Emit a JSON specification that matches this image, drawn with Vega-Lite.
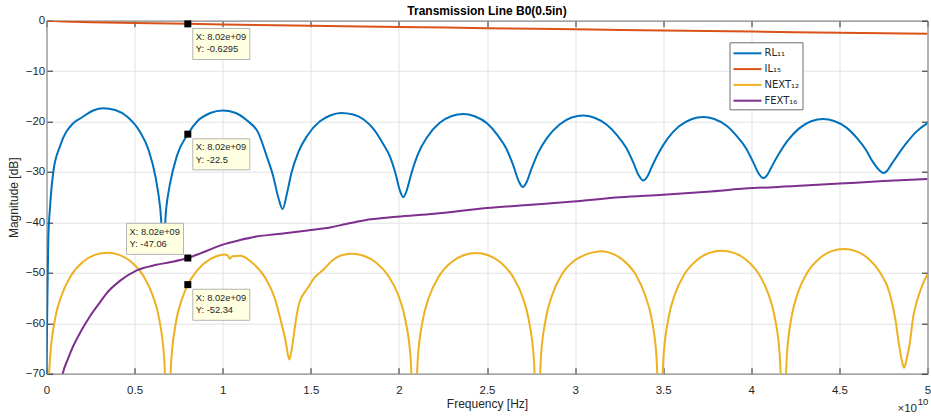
{
  "$schema": "https://vega.github.io/schema/vega-lite/v6.json",
  "width": 881,
  "height": 353,
  "autosize": {"type": "none"},
  "padding": {"left": 46.5, "top": 20.7, "right": 3.5, "bottom": 44.3},
  "background": "white",
  "config": {"view": {"stroke": null}, "font": "Liberation Sans"},
  "title": {"text": "Transmission Line B0(0.5in)", "fontSize": 12, "fontWeight": "bold", "color": "#000000", "offset": -3, "anchor": "middle", "font": "Liberation Sans"},
  "datasets": {
    "curves": [
      {"s": "RL₁₁", "f": 0, "db": -70}, {"s": "RL₁₁", "f": 0.05, "db": -55}, {"s": "RL₁₁", "f": 0.102, "db": -43.5}, {"s": "RL₁₁", "f": 0.2, "db": -37}, {"s": "RL₁₁", "f": 0.386, "db": -30}, {"s": "RL₁₁", "f": 0.766, "db": -24.9}, {"s": "RL₁₁", "f": 1.52, "db": -20.3}, {"s": "RL₁₁", "f": 2.0, "db": -19.2}, {"s": "RL₁₁", "f": 2.65, "db": -17.8}, {"s": "RL₁₁", "f": 3.22, "db": -17.35}, {"s": "RL₁₁", "f": 3.9, "db": -17.7}, {"s": "RL₁₁", "f": 4.6, "db": -19.1}, {"s": "RL₁₁", "f": 5.3, "db": -22.0}, {"s": "RL₁₁", "f": 5.8, "db": -25.7}, {"s": "RL₁₁", "f": 6.2, "db": -31.2}, {"s": "RL₁₁", "f": 6.45, "db": -37}, {"s": "RL₁₁", "f": 6.63, "db": -44}, {"s": "RL₁₁", "f": 6.8, "db": -37}, {"s": "RL₁₁", "f": 7.0, "db": -32.5}, {"s": "RL₁₁", "f": 7.4, "db": -26.8}, {"s": "RL₁₁", "f": 8.02, "db": -22.5}, {"s": "RL₁₁", "f": 8.6, "db": -19.8}, {"s": "RL₁₁", "f": 9.3, "db": -18.3}, {"s": "RL₁₁", "f": 10.0, "db": -17.8}, {"s": "RL₁₁", "f": 10.7, "db": -18.25}, {"s": "RL₁₁", "f": 11.4, "db": -19.85}, {"s": "RL₁₁", "f": 12.0, "db": -22.1}, {"s": "RL₁₁", "f": 12.5, "db": -26.9}, {"s": "RL₁₁", "f": 12.87, "db": -30.9}, {"s": "RL₁₁", "f": 13.15, "db": -35}, {"s": "RL₁₁", "f": 13.4, "db": -37.35}, {"s": "RL₁₁", "f": 13.65, "db": -34.2}, {"s": "RL₁₁", "f": 13.9, "db": -30.2}, {"s": "RL₁₁", "f": 14.3, "db": -26.0}, {"s": "RL₁₁", "f": 14.8, "db": -22.8}, {"s": "RL₁₁", "f": 15.5, "db": -20.0}, {"s": "RL₁₁", "f": 16.1, "db": -18.8}, {"s": "RL₁₁", "f": 16.7, "db": -18.3}, {"s": "RL₁₁", "f": 17.4, "db": -18.6}, {"s": "RL₁₁", "f": 18.0, "db": -19.6}, {"s": "RL₁₁", "f": 18.6, "db": -21.65}, {"s": "RL₁₁", "f": 19.1, "db": -24.4}, {"s": "RL₁₁", "f": 19.5, "db": -27.0}, {"s": "RL₁₁", "f": 19.8, "db": -30.2}, {"s": "RL₁₁", "f": 20.05, "db": -33.6}, {"s": "RL₁₁", "f": 20.25, "db": -35.0}, {"s": "RL₁₁", "f": 20.45, "db": -33.6}, {"s": "RL₁₁", "f": 20.7, "db": -30.4}, {"s": "RL₁₁", "f": 21.1, "db": -26.3}, {"s": "RL₁₁", "f": 21.6, "db": -23.1}, {"s": "RL₁₁", "f": 22.3, "db": -20.3}, {"s": "RL₁₁", "f": 23.0, "db": -18.9}, {"s": "RL₁₁", "f": 23.66, "db": -18.5}, {"s": "RL₁₁", "f": 24.3, "db": -18.95}, {"s": "RL₁₁", "f": 25.0, "db": -20.35}, {"s": "RL₁₁", "f": 25.6, "db": -22.7}, {"s": "RL₁₁", "f": 26.1, "db": -25.4}, {"s": "RL₁₁", "f": 26.5, "db": -28.8}, {"s": "RL₁₁", "f": 26.8, "db": -31.8}, {"s": "RL₁₁", "f": 27.03, "db": -33.0}, {"s": "RL₁₁", "f": 27.25, "db": -32.0}, {"s": "RL₁₁", "f": 27.5, "db": -29.6}, {"s": "RL₁₁", "f": 27.9, "db": -26.2}, {"s": "RL₁₁", "f": 28.4, "db": -23.3}, {"s": "RL₁₁", "f": 29.1, "db": -20.65}, {"s": "RL₁₁", "f": 29.8, "db": -19.2}, {"s": "RL₁₁", "f": 30.47, "db": -18.8}, {"s": "RL₁₁", "f": 31.1, "db": -19.25}, {"s": "RL₁₁", "f": 31.8, "db": -20.65}, {"s": "RL₁₁", "f": 32.4, "db": -22.8}, {"s": "RL₁₁", "f": 32.9, "db": -25.2}, {"s": "RL₁₁", "f": 33.3, "db": -28.1}, {"s": "RL₁₁", "f": 33.6, "db": -30.6}, {"s": "RL₁₁", "f": 33.87, "db": -31.7}, {"s": "RL₁₁", "f": 34.1, "db": -30.9}, {"s": "RL₁₁", "f": 34.35, "db": -29.0}, {"s": "RL₁₁", "f": 34.75, "db": -26.2}, {"s": "RL₁₁", "f": 35.25, "db": -23.4}, {"s": "RL₁₁", "f": 35.9, "db": -20.95}, {"s": "RL₁₁", "f": 36.6, "db": -19.55}, {"s": "RL₁₁", "f": 37.28, "db": -19.1}, {"s": "RL₁₁", "f": 37.9, "db": -19.5}, {"s": "RL₁₁", "f": 38.6, "db": -20.85}, {"s": "RL₁₁", "f": 39.2, "db": -23.0}, {"s": "RL₁₁", "f": 39.7, "db": -25.3}, {"s": "RL₁₁", "f": 40.1, "db": -28.0}, {"s": "RL₁₁", "f": 40.4, "db": -30.2}, {"s": "RL₁₁", "f": 40.68, "db": -31.2}, {"s": "RL₁₁", "f": 40.9, "db": -30.6}, {"s": "RL₁₁", "f": 41.15, "db": -29.0}, {"s": "RL₁₁", "f": 41.55, "db": -26.5}, {"s": "RL₁₁", "f": 42.05, "db": -23.85}, {"s": "RL₁₁", "f": 42.7, "db": -21.4}, {"s": "RL₁₁", "f": 43.4, "db": -19.95}, {"s": "RL₁₁", "f": 44.09, "db": -19.5}, {"s": "RL₁₁", "f": 44.7, "db": -19.9}, {"s": "RL₁₁", "f": 45.4, "db": -21.2}, {"s": "RL₁₁", "f": 46.0, "db": -23.3}, {"s": "RL₁₁", "f": 46.5, "db": -25.6}, {"s": "RL₁₁", "f": 46.9, "db": -28.0}, {"s": "RL₁₁", "f": 47.2, "db": -29.4}, {"s": "RL₁₁", "f": 47.49, "db": -30.2}, {"s": "RL₁₁", "f": 47.7, "db": -29.8}, {"s": "RL₁₁", "f": 47.95, "db": -28.5}, {"s": "RL₁₁", "f": 48.3, "db": -26.7}, {"s": "RL₁₁", "f": 48.8, "db": -24.3}, {"s": "RL₁₁", "f": 49.4, "db": -21.9}, {"s": "RL₁₁", "f": 50.0, "db": -20.3},
      {"s": "IL₁₅", "f": 0, "db": 0}, {"s": "IL₁₅", "f": 1, "db": -0.159}, {"s": "IL₁₅", "f": 2.5, "db": -0.284}, {"s": "IL₁₅", "f": 5, "db": -0.45}, {"s": "IL₁₅", "f": 8.02, "db": -0.6295}, {"s": "IL₁₅", "f": 10, "db": -0.739}, {"s": "IL₁₅", "f": 15, "db": -1.0}, {"s": "IL₁₅", "f": 20, "db": -1.246}, {"s": "IL₁₅", "f": 25, "db": -1.48}, {"s": "IL₁₅", "f": 30, "db": -1.715}, {"s": "IL₁₅", "f": 35, "db": -1.94}, {"s": "IL₁₅", "f": 40, "db": -2.16}, {"s": "IL₁₅", "f": 45, "db": -2.38}, {"s": "IL₁₅", "f": 50, "db": -2.6},
      {"s": "NEXT₁₂", "f": 0, "db": -80}, {"s": "NEXT₁₂", "f": 0.21, "db": -66.5}, {"s": "NEXT₁₂", "f": 0.48, "db": -59.2}, {"s": "NEXT₁₂", "f": 0.83, "db": -54.7}, {"s": "NEXT₁₂", "f": 1.38, "db": -50.6}, {"s": "NEXT₁₂", "f": 2.06, "db": -47.84}, {"s": "NEXT₁₂", "f": 2.75, "db": -46.44}, {"s": "NEXT₁₂", "f": 3.44, "db": -46.0}, {"s": "NEXT₁₂", "f": 4.13, "db": -46.44}, {"s": "NEXT₁₂", "f": 4.82, "db": -47.84}, {"s": "NEXT₁₂", "f": 5.5, "db": -50.6}, {"s": "NEXT₁₂", "f": 6.05, "db": -54.7}, {"s": "NEXT₁₂", "f": 6.4, "db": -59.2}, {"s": "NEXT₁₂", "f": 6.67, "db": -66.5}, {"s": "NEXT₁₂", "f": 6.88, "db": -80},
      {"s": "NEXT₁₂", "f": 7.09, "db": -66.8}, {"s": "NEXT₁₂", "f": 7.36, "db": -59.5}, {"s": "NEXT₁₂", "f": 7.71, "db": -55.0}, {"s": "NEXT₁₂", "f": 8.02, "db": -52.34}, {"s": "NEXT₁₂", "f": 8.26, "db": -50.9}, {"s": "NEXT₁₂", "f": 8.95, "db": -48.1}, {"s": "NEXT₁₂", "f": 9.64, "db": -46.7}, {"s": "NEXT₁₂", "f": 10.1, "db": -46.35}, {"s": "NEXT₁₂", "f": 10.3, "db": -46.6}, {"s": "NEXT₁₂", "f": 10.4, "db": -47.2}, {"s": "NEXT₁₂", "f": 10.55, "db": -46.7}, {"s": "NEXT₁₂", "f": 11.0, "db": -46.6}, {"s": "NEXT₁₂", "f": 11.71, "db": -48.1}, {"s": "NEXT₁₂", "f": 12.4, "db": -50.9}, {"s": "NEXT₁₂", "f": 12.95, "db": -55.0}, {"s": "NEXT₁₂", "f": 13.3, "db": -59.5}, {"s": "NEXT₁₂", "f": 13.57, "db": -63.5}, {"s": "NEXT₁₂", "f": 13.78, "db": -67.2},
      {"s": "NEXT₁₂", "f": 13.9, "db": -65.5}, {"s": "NEXT₁₂", "f": 14.0, "db": -63.2}, {"s": "NEXT₁₂", "f": 14.15, "db": -59.5}, {"s": "NEXT₁₂", "f": 14.3, "db": -56.6}, {"s": "NEXT₁₂", "f": 14.45, "db": -55.0}, {"s": "NEXT₁₂", "f": 14.57, "db": -54.3}, {"s": "NEXT₁₂", "f": 14.77, "db": -53.3}, {"s": "NEXT₁₂", "f": 15.2, "db": -51.0}, {"s": "NEXT₁₂", "f": 15.71, "db": -49.4}, {"s": "NEXT₁₂", "f": 16.2, "db": -47.6}, {"s": "NEXT₁₂", "f": 16.66, "db": -46.6}, {"s": "NEXT₁₂", "f": 17.32, "db": -46.2}, {"s": "NEXT₁₂", "f": 18.0, "db": -46.6}, {"s": "NEXT₁₂", "f": 18.7, "db": -47.95}, {"s": "NEXT₁₂", "f": 19.4, "db": -50.6}, {"s": "NEXT₁₂", "f": 19.95, "db": -54.3}, {"s": "NEXT₁₂", "f": 20.37, "db": -59.4}, {"s": "NEXT₁₂", "f": 20.66, "db": -66.7}, {"s": "NEXT₁₂", "f": 20.87, "db": -80},
      {"s": "NEXT₁₂", "f": 21.08, "db": -66.6}, {"s": "NEXT₁₂", "f": 21.36, "db": -59.3}, {"s": "NEXT₁₂", "f": 21.71, "db": -54.8}, {"s": "NEXT₁₂", "f": 22.27, "db": -50.7}, {"s": "NEXT₁₂", "f": 22.97, "db": -47.9}, {"s": "NEXT₁₂", "f": 23.67, "db": -46.5}, {"s": "NEXT₁₂", "f": 24.37, "db": -46.06}, {"s": "NEXT₁₂", "f": 25.07, "db": -46.5}, {"s": "NEXT₁₂", "f": 25.76, "db": -47.9}, {"s": "NEXT₁₂", "f": 26.46, "db": -50.7}, {"s": "NEXT₁₂", "f": 27.02, "db": -54.8}, {"s": "NEXT₁₂", "f": 27.37, "db": -59.3}, {"s": "NEXT₁₂", "f": 27.65, "db": -66.6}, {"s": "NEXT₁₂", "f": 27.86, "db": -80},
      {"s": "NEXT₁₂", "f": 28.07, "db": -66.2}, {"s": "NEXT₁₂", "f": 28.35, "db": -58.9}, {"s": "NEXT₁₂", "f": 28.7, "db": -54.4}, {"s": "NEXT₁₂", "f": 29.25, "db": -50.3}, {"s": "NEXT₁₂", "f": 29.95, "db": -47.6}, {"s": "NEXT₁₂", "f": 30.47, "db": -46.6}, {"s": "NEXT₁₂", "f": 30.65, "db": -46.3}, {"s": "NEXT₁₂", "f": 31.34, "db": -45.75}, {"s": "NEXT₁₂", "f": 31.51, "db": -45.7}, {"s": "NEXT₁₂", "f": 32.04, "db": -46.1}, {"s": "NEXT₁₂", "f": 32.73, "db": -47.5}, {"s": "NEXT₁₂", "f": 33.43, "db": -50.3}, {"s": "NEXT₁₂", "f": 33.97, "db": -54.4}, {"s": "NEXT₁₂", "f": 34.33, "db": -58.9}, {"s": "NEXT₁₂", "f": 34.61, "db": -66.2}, {"s": "NEXT₁₂", "f": 34.82, "db": -80},
      {"s": "NEXT₁₂", "f": 35.03, "db": -66.1}, {"s": "NEXT₁₂", "f": 35.31, "db": -58.8}, {"s": "NEXT₁₂", "f": 35.66, "db": -54.3}, {"s": "NEXT₁₂", "f": 36.22, "db": -50.2}, {"s": "NEXT₁₂", "f": 36.92, "db": -47.44}, {"s": "NEXT₁₂", "f": 37.62, "db": -46.04}, {"s": "NEXT₁₂", "f": 38.32, "db": -45.6}, {"s": "NEXT₁₂", "f": 39.02, "db": -46.04}, {"s": "NEXT₁₂", "f": 39.72, "db": -47.44}, {"s": "NEXT₁₂", "f": 40.42, "db": -50.2}, {"s": "NEXT₁₂", "f": 40.98, "db": -54.3}, {"s": "NEXT₁₂", "f": 41.33, "db": -58.8}, {"s": "NEXT₁₂", "f": 41.61, "db": -66.1}, {"s": "NEXT₁₂", "f": 41.82, "db": -80},
      {"s": "NEXT₁₂", "f": 42.03, "db": -65.8}, {"s": "NEXT₁₂", "f": 42.3, "db": -58.5}, {"s": "NEXT₁₂", "f": 42.64, "db": -54.0}, {"s": "NEXT₁₂", "f": 43.19, "db": -49.9}, {"s": "NEXT₁₂", "f": 43.88, "db": -47.1}, {"s": "NEXT₁₂", "f": 44.56, "db": -45.7}, {"s": "NEXT₁₂", "f": 45.25, "db": -45.27}, {"s": "NEXT₁₂", "f": 45.93, "db": -45.7}, {"s": "NEXT₁₂", "f": 46.62, "db": -47.1}, {"s": "NEXT₁₂", "f": 47.3, "db": -49.9}, {"s": "NEXT₁₂", "f": 47.85, "db": -54.0}, {"s": "NEXT₁₂", "f": 48.19, "db": -59.5}, {"s": "NEXT₁₂", "f": 48.35, "db": -63.5}, {"s": "NEXT₁₂", "f": 48.55, "db": -67.5}, {"s": "NEXT₁₂", "f": 48.67, "db": -68.8}, {"s": "NEXT₁₂", "f": 48.85, "db": -66.5}, {"s": "NEXT₁₂", "f": 48.97, "db": -64.5}, {"s": "NEXT₁₂", "f": 49.2, "db": -58.5}, {"s": "NEXT₁₂", "f": 49.5, "db": -54.5}, {"s": "NEXT₁₂", "f": 50.0, "db": -50.2},
      {"s": "FEXT₁₆", "f": 0.85, "db": -71.2}, {"s": "FEXT₁₆", "f": 0.92, "db": -70}, {"s": "FEXT₁₆", "f": 1.2, "db": -67.2}, {"s": "FEXT₁₆", "f": 1.52, "db": -64.5}, {"s": "FEXT₁₆", "f": 2.0, "db": -61.3}, {"s": "FEXT₁₆", "f": 2.47, "db": -58.6}, {"s": "FEXT₁₆", "f": 3.0, "db": -56.0}, {"s": "FEXT₁₆", "f": 3.42, "db": -54.0}, {"s": "FEXT₁₆", "f": 4.2, "db": -51.5}, {"s": "FEXT₁₆", "f": 5.12, "db": -49.5}, {"s": "FEXT₁₆", "f": 6.25, "db": -48.4}, {"s": "FEXT₁₆", "f": 7.0, "db": -47.9}, {"s": "FEXT₁₆", "f": 8.02, "db": -47.06}, {"s": "FEXT₁₆", "f": 8.7, "db": -46.2}, {"s": "FEXT₁₆", "f": 9.47, "db": -45.1}, {"s": "FEXT₁₆", "f": 10.2, "db": -44.2}, {"s": "FEXT₁₆", "f": 10.98, "db": -43.5}, {"s": "FEXT₁₆", "f": 12.0, "db": -42.75}, {"s": "FEXT₁₆", "f": 13.0, "db": -42.35}, {"s": "FEXT₁₆", "f": 14.0, "db": -41.95}, {"s": "FEXT₁₆", "f": 15.0, "db": -41.5}, {"s": "FEXT₁₆", "f": 16.09, "db": -41.0}, {"s": "FEXT₁₆", "f": 17.0, "db": -40.3}, {"s": "FEXT₁₆", "f": 18.0, "db": -39.6}, {"s": "FEXT₁₆", "f": 19.88, "db": -38.9}, {"s": "FEXT₁₆", "f": 22.0, "db": -38.3}, {"s": "FEXT₁₆", "f": 24.98, "db": -37.15}, {"s": "FEXT₁₆", "f": 27.5, "db": -36.5}, {"s": "FEXT₁₆", "f": 30.09, "db": -35.8}, {"s": "FEXT₁₆", "f": 32.55, "db": -35.0}, {"s": "FEXT₁₆", "f": 35.0, "db": -34.5}, {"s": "FEXT₁₆", "f": 37.5, "db": -33.9}, {"s": "FEXT₁₆", "f": 40.11, "db": -33.2}, {"s": "FEXT₁₆", "f": 42.5, "db": -32.8}, {"s": "FEXT₁₆", "f": 45.03, "db": -32.3}, {"s": "FEXT₁₆", "f": 47.5, "db": -31.8}, {"s": "FEXT₁₆", "f": 50.0, "db": -31.4}
    ],
    "tips": [
      {"s": "IL₁₅", "f": 8.02, "db": -0.6295, "tip": "X: 8.02e+09\nY: -0.6295"},
      {"s": "RL₁₁", "f": 8.02, "db": -22.5, "tip": "X: 8.02e+09\nY: -22.5"},
      {"s": "FEXT₁₆", "f": 8.02, "db": -47.06, "tip": "X: 8.02e+09\nY: -47.06"},
      {"s": "NEXT₁₂", "f": 8.02, "db": -52.34, "tip": "X: 8.02e+09\nY: -52.34"}
    ],
    "corner": [{"f": 50, "db": -70}]
  },
  "layer": [
    {
      "data": {"name": "curves"},
      "mark": {"type": "line", "strokeWidth": 2, "interpolate": "monotone", "clip": true},
      "encoding": {
        "x": {"field": "f", "type": "quantitative", "scale": {"domain": [0, 50], "nice": false, "zero": false},
          "axis": {"orient": "bottom", "values": [0, 5, 10, 15, 20, 25, 30, 35, 40, 45, 50], "labelExpr": "datum.value / 10", "title": "Frequency [Hz]", "grid": true, "gridColor": "#e3e3e3", "gridOpacity": 1, "tickSize": -6, "tickColor": "#262626", "domainColor": "#8c8c8c", "domainWidth": 1.2, "labelFlush": false, "labelFontSize": 11.5, "labelColor": "#262626", "labelPadding": 16.5, "titleFontSize": 12, "titleFontWeight": "normal", "titleColor": "#262626", "titlePadding": 3}},
        "y": {"field": "db", "type": "quantitative", "scale": {"domain": [-70, 0], "nice": false, "zero": false},
          "axis": {"orient": "left", "values": [-70, -60, -50, -40, -30, -20, -10, 0], "title": "Magnitude [dB]", "grid": true, "gridColor": "#e3e3e3", "gridOpacity": 1, "tickSize": -6, "tickColor": "#262626", "domainColor": "#8c8c8c", "domainWidth": 1.2, "labelFlush": false, "labelFontSize": 11.5, "labelColor": "#262626", "labelPadding": 7.8, "titleFontSize": 12, "titleFontWeight": "normal", "titleColor": "#262626", "titlePadding": 5}},
        "color": {"field": "s", "type": "nominal", "sort": null,
          "scale": {"domain": ["RL₁₁", "IL₁₅", "NEXT₁₂", "FEXT₁₆"], "range": ["#0072BD", "#D95319", "#EDB120", "#7E2F8E"]},
          "legend": {"orient": "none", "legendX": 683, "legendY": 21.6, "title": null, "symbolType": "M-1,0H3", "symbolSize": 196, "symbolStrokeWidth": 2, "labelFont": "DejaVu Sans", "labelFontSize": 10, "labelColor": "#262626", "labelOffset": 16, "strokeColor": "#6e6e6e", "fillColor": "#ffffff", "padding": 3, "rowPadding": 2.8}}
      }
    },
    {
      "data": {"name": "tips"},
      "transform": [{"filter": "datum.s != 'FEXT₁₆'"}],
      "mark": {"type": "point", "shape": "M0,0H2V1.09H0Z", "size": 3249, "fill": "#FFFFE1", "stroke": "#b4b4b4", "strokeWidth": 1, "opacity": 1, "fillOpacity": 1, "xOffset": 5, "yOffset": 4.6},
      "encoding": {
        "x": {"field": "f", "type": "quantitative", "scale": {"domain": [0, 50], "nice": false, "zero": false},
          "axis": {"orient": "top", "values": [0, 5, 10, 15, 20, 25, 30, 35, 40, 45, 50], "labels": false, "title": null, "grid": false, "tickSize": -6, "tickColor": "#262626", "domainColor": "#8c8c8c", "domainWidth": 1.2}},
        "y": {"field": "db", "type": "quantitative", "scale": {"domain": [-70, 0], "nice": false, "zero": false},
          "axis": {"orient": "right", "values": [-70, -60, -50, -40, -30, -20, -10, 0], "labels": false, "title": null, "grid": false, "tickSize": -6, "tickColor": "#262626", "domainColor": "#8c8c8c", "domainWidth": 1.2}}
      }
    },
    {
      "data": {"name": "tips"},
      "transform": [{"filter": "datum.s == 'FEXT₁₆'"}],
      "mark": {"type": "point", "shape": "M0,0H2V1.09H0Z", "size": 3249, "fill": "#FFFFE1", "stroke": "#b4b4b4", "strokeWidth": 1, "opacity": 1, "fillOpacity": 1, "xOffset": -61.3, "yOffset": -34.7},
      "encoding": {
        "x": {"field": "f", "type": "quantitative", "scale": {"domain": [0, 50], "nice": false, "zero": false}, "axis": null},
        "y": {"field": "db", "type": "quantitative", "scale": {"domain": [-70, 0], "nice": false, "zero": false}, "axis": null}
      }
    },
    {
      "data": {"name": "tips"},
      "transform": [{"filter": "datum.s != 'FEXT₁₆'"}],
      "mark": {"type": "text", "align": "left", "baseline": "top", "dx": 8, "dy": 8.9, "fontSize": 9.3, "lineHeight": 12.6, "lineBreak": "\n", "color": "#262626"},
      "encoding": {
        "x": {"field": "f", "type": "quantitative", "scale": {"domain": [0, 50], "nice": false, "zero": false}, "axis": null},
        "y": {"field": "db", "type": "quantitative", "scale": {"domain": [-70, 0], "nice": false, "zero": false}, "axis": null},
        "text": {"field": "tip", "type": "nominal"}
      }
    },
    {
      "data": {"name": "tips"},
      "transform": [{"filter": "datum.s == 'FEXT₁₆'"}],
      "mark": {"type": "text", "align": "left", "baseline": "top", "dx": -58.3, "dy": -30.4, "fontSize": 9.3, "lineHeight": 12.6, "lineBreak": "\n", "color": "#262626"},
      "encoding": {
        "x": {"field": "f", "type": "quantitative", "scale": {"domain": [0, 50], "nice": false, "zero": false}, "axis": null},
        "y": {"field": "db", "type": "quantitative", "scale": {"domain": [-70, 0], "nice": false, "zero": false}, "axis": null},
        "text": {"field": "tip", "type": "nominal"}
      }
    },
    {
      "data": {"name": "tips"},
      "mark": {"type": "point", "shape": "square", "size": 49, "filled": true, "color": "#000000", "opacity": 1},
      "encoding": {
        "x": {"field": "f", "type": "quantitative", "scale": {"domain": [0, 50], "nice": false, "zero": false}, "axis": null},
        "y": {"field": "db", "type": "quantitative", "scale": {"domain": [-70, 0], "nice": false, "zero": false}, "axis": null}
      }
    },
    {
      "data": {"name": "corner"},
      "mark": {"type": "text", "text": "×10", "align": "right", "baseline": "alphabetic", "dx": -10.5, "dy": 38.3, "fontSize": 11.5, "color": "#262626"},
      "encoding": {
        "x": {"field": "f", "type": "quantitative", "scale": {"domain": [0, 50], "nice": false, "zero": false}, "axis": null},
        "y": {"field": "db", "type": "quantitative", "scale": {"domain": [-70, 0], "nice": false, "zero": false}, "axis": null}
      }
    },
    {
      "data": {"name": "corner"},
      "mark": {"type": "text", "text": "10", "align": "right", "baseline": "alphabetic", "dx": 0.8, "dy": 31, "fontSize": 9.5, "color": "#262626"},
      "encoding": {
        "x": {"field": "f", "type": "quantitative", "scale": {"domain": [0, 50], "nice": false, "zero": false}, "axis": null},
        "y": {"field": "db", "type": "quantitative", "scale": {"domain": [-70, 0], "nice": false, "zero": false}, "axis": null}
      }
    }
  ]
}
